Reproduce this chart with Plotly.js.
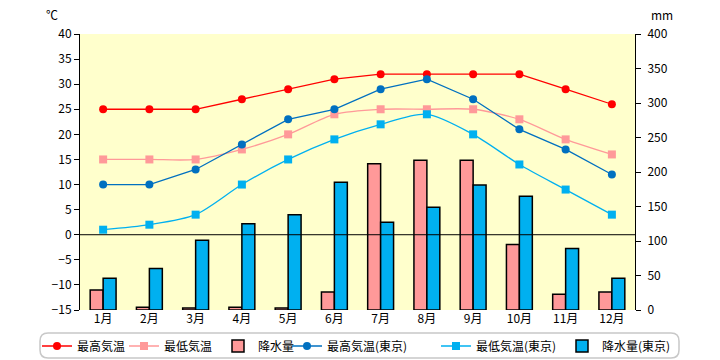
<!DOCTYPE html>
<html>
<head>
<meta charset="utf-8">
<script src="https://cdn.plot.ly/plotly-3.0.1.min.js"></script>
<style>html,body{margin:0;padding:0;background:#fff;}#chart{width:720px;height:360px;}</style>
</head>
<body>
<div id="chart"></div>
<script>
const months = ['1月','2月','3月','4月','5月','6月','7月','8月','9月','10月','11月','12月'];
const tempMax = [25,25,25,27,29,31,32,32,32,32,29,26];
const tempMin = [15,15,15,17,20,24,25,25,25,23,19,16];
const precip = [29,4,3,4,3,26,212,217,217,95,23,26];
const tokyoMax = [10,10,13,18,23,25,29,31,27,21,17,12];
const tokyoMin = [1,2,4,10,15,19,22,24,20,14,9,4];
const tokyoPrecip = [46,60,101,125,138,185,127,149,181,165,89,46];
const tempTicks = [-15,-10,-5,0,5,10,15,20,25,30,35,40];
const mmTicks = [0,50,100,150,200,250,300,350,400];

const FONT = '"Noto Sans CJK JP", "Noto Sans", sans-serif';
const L = 80, R = 85, T = 34, B = 50, W = 720, H = 360;
const pw = W - L - R, ph = H - T - B;
const px = x => (x - L) / pw;
const py = y => (H - B - y) / ph;

const traces = [
  {name:'最高気温', legend:'legend', x:months, y:tempMax, type:'scatter', mode:'lines+markers', yaxis:'y2',
   line:{color:'#FF0000', width:1.3}, marker:{symbol:'circle', size:8, color:'#FF0000'}},
  {name:'最低気温', legend:'legend2', x:months, y:tempMin, type:'scatter', mode:'lines+markers', yaxis:'y2',
   line:{color:'#FF9999', width:1.3, shape:'spline', smoothing:0.8}, marker:{symbol:'square', size:8, color:'#FF9999'}},
  {name:'降水量', legend:'legend3', x:months, y:precip, type:'bar', yaxis:'y',
   marker:{color:'#FF9999', line:{color:'#000000', width:1.5}}},
  {name:'最高気温(東京)', legend:'legend4', x:months, y:tokyoMax, type:'scatter', mode:'lines+markers', yaxis:'y2',
   line:{color:'#0070C0', width:1.3}, marker:{symbol:'circle', size:8, color:'#0070C0'}},
  {name:'最低気温(東京)', legend:'legend5', x:months, y:tokyoMin, type:'scatter', mode:'lines+markers', yaxis:'y2',
   line:{color:'#00B0F0', width:1.3, shape:'spline', smoothing:0.8}, marker:{symbol:'square', size:8, color:'#00B0F0'}},
  {name:'降水量(東京)', legend:'legend6', x:months, y:tokyoPrecip, type:'bar', yaxis:'y',
   marker:{color:'#00B0F0', line:{color:'#000000', width:1.5}}}
];

// rounded legend frame
const bx0 = 40, bx1 = 679, by0 = 333, by1 = 358, r = 8;
const rx = r / pw, ry = r / ph;
const X0 = px(bx0), X1 = px(bx1), Y0 = py(by0), Y1 = py(by1);
const framePath = `M ${X0+rx},${Y0} L ${X1-rx},${Y0} Q ${X1},${Y0} ${X1},${Y0-ry} L ${X1},${Y1+ry} Q ${X1},${Y1} ${X1-rx},${Y1} L ${X0+rx},${Y1} Q ${X0},${Y1} ${X0},${Y1+ry} L ${X0},${Y0-ry} Q ${X0},${Y0} ${X0+rx},${Y0} Z`;

const legendX = [37, 124, 218, 287, 436, 562];
const mkLegend = x => ({orientation:'h', xref:'container', yref:'container', x: x/W, xanchor:'left',
  y: (H-346)/H, yanchor:'middle', bgcolor:'rgba(0,0,0,0)', borderwidth:0, itemwidth:30,
  font:{family: FONT, size:12, color:'#000'}});

const layout = {
  width: W, height: H,
  margin: {l:L, r:R, t:T, b:B, pad:0, autoexpand:false},
  paper_bgcolor: '#FFFFFF',
  plot_bgcolor: '#FFFFCC',
  font: {family: FONT, size: 12, color: '#000000'},
  barmode: 'group', bargap: 0.44, bargroupgap: 0,
  showlegend: true,
  legend: mkLegend(legendX[0]),
  legend2: mkLegend(legendX[1]),
  legend3: mkLegend(legendX[2]),
  legend4: mkLegend(legendX[3]),
  legend5: mkLegend(legendX[4]),
  legend6: mkLegend(legendX[5]),
  xaxis: {type:'category', range:[-0.5, months.length - 0.5], autorange:false, showline:false, ticks:'',
          showgrid:false, zeroline:false, tickfont:{family: FONT, size:12, color:'#000'}},
  yaxis: {side:'right', range:[0,400], tickvals: mmTicks, ticks:'outside', ticklen:5, tickcolor:'#000',
          showline:true, linecolor:'#000', linewidth:1, showgrid:false, zeroline:false,
          tickfont:{family: FONT, size:12, color:'#000'}, ticklabelstandoff:4},
  yaxis2: {overlaying:'y', side:'left', range:[-15,40], tickvals: tempTicks, ticks:'outside', ticklen:5, tickcolor:'#000',
           showline:true, linecolor:'#000', linewidth:1, showgrid:false, zeroline:false,
           tickfont:{family: FONT, size:12, color:'#000'}},
  shapes: [
    {type:'line', xref:'paper', x0:0, x1:1, yref:'y2', y0:0, y1:0, line:{color:'#000', width:1}, layer:'above'},
    {type:'path', xref:'paper', yref:'paper', path: framePath, line:{color:'#C8C8C8', width:1.5}, fillcolor:'rgba(0,0,0,0)', layer:'below'}
  ],
  annotations: [
    {text:'℃', xref:'paper', yref:'paper', x:px(52), y:py(15), showarrow:false, xanchor:'center', yanchor:'middle',
     font:{family: FONT, size:12, color:'#000'}},
    {text:'mm', xref:'paper', yref:'paper', x:px(662), y:py(15), showarrow:false, xanchor:'center', yanchor:'middle',
     font:{family: FONT, size:12, color:'#000'}}
  ]
};

Plotly.newPlot('chart', traces, layout, {staticPlot:true, displayModeBar:false});
</script>
</body>
</html>
